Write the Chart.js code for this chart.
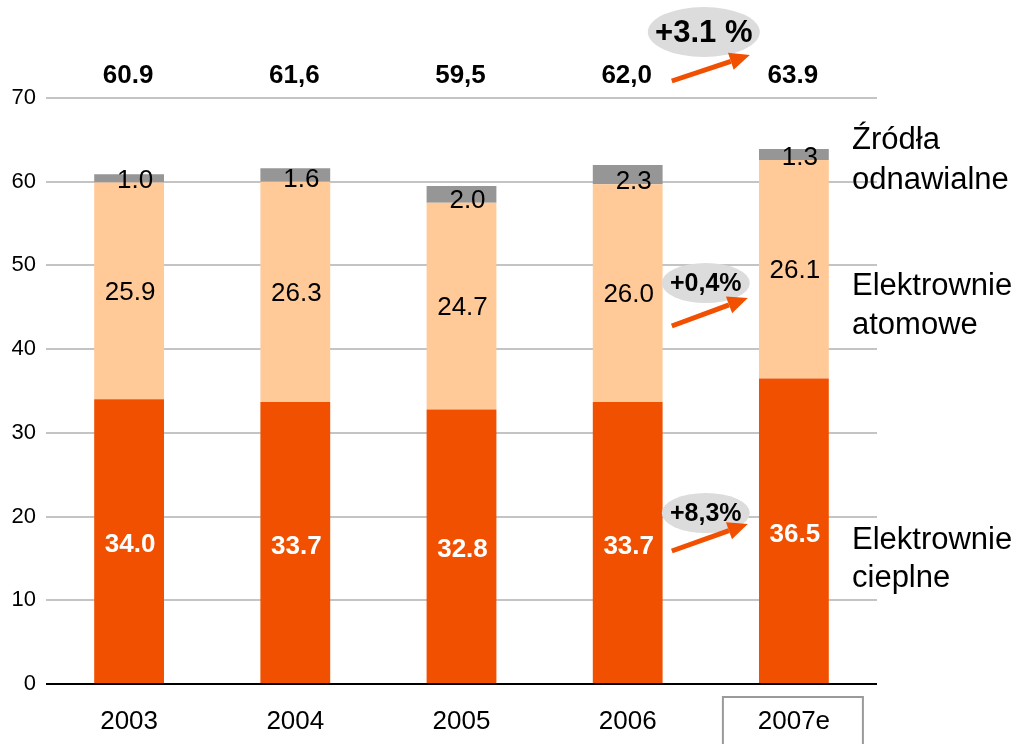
<!DOCTYPE html>
<html>
<head>
<meta charset="utf-8">
<script src="https://cdn.jsdelivr.net/npm/chart.js@4"></script>
<style>
  body { margin: 0; background: #fff; }
  #wrap { width: 1019px; height: 744px; }
</style>
</head>
<body>
<div id="wrap"><canvas id="energyChart" width="1019" height="744"></canvas></div>
<script>
// data
const years = ["2003", "2004", "2005", "2006", "2007e"];
const cieplne = [34.0, 33.7, 32.8, 33.7, 36.5];
const atomowe = [25.9, 26.3, 24.7, 26.0, 26.1];
const odnawialne = [1.0, 1.6, 2.0, 2.3, 1.3];
const totalLabels = ["60.9", "61,6", "59,5", "62,0", "63.9"];
const yTicks = [0, 10, 20, 30, 40, 50, 60, 70];

const FONT = "'Liberation Sans', Arial, sans-serif";

// draws the numbers inside bars, the totals and the side notes
const labelPlugin = {
  id: "labelPlugin",
  afterDatasetsDraw(chart) {
    const ctx = chart.ctx;
    const xScale = chart.scales.x;
    ctx.save();
    ctx.textAlign = "center";
    ctx.textBaseline = "middle";

    // bottom segment - white bold
    chart.getDatasetMeta(0).data.forEach((bar, i) => {
      ctx.font = "bold 26px " + FONT;
      ctx.fillStyle = "#fff";
      ctx.fillText(cieplne[i].toFixed(1), bar.x + 1, (bar.y + bar.base) / 2 + 4);
    });
    // middle segment
    chart.getDatasetMeta(1).data.forEach((bar, i) => {
      ctx.font = "26px " + FONT;
      ctx.fillStyle = "#000";
      ctx.fillText(atomowe[i].toFixed(1), bar.x + 1, (bar.y + bar.base) / 2 + 2);
    });
    // top segment, label sits on the lower edge
    chart.getDatasetMeta(2).data.forEach((bar, i) => {
      ctx.font = "26px " + FONT;
      ctx.fillStyle = "#000";
      ctx.fillText(odnawialne[i].toFixed(1), bar.x + 6, bar.base - 2);
    });
    // totals above the plot
    ctx.font = "bold 26px " + FONT;
    ctx.fillStyle = "#000";
    totalLabels.forEach((t, i) => {
      ctx.fillText(t, xScale.getPixelForValue(i) - 1, 76);
    });

    // box round the estimate year
    const bx = xScale.getPixelForValue(4);
    ctx.strokeStyle = "#9a9a9a";
    ctx.lineWidth = 2;
    ctx.strokeRect(bx - 71, 697, 140, 50);

    // growth notes between 2006 and 2007
    const midX = (xScale.getPixelForValue(3) + xScale.getPixelForValue(4)) / 2;
    drawNote(ctx, midX - 7, 32, 56, 25, "+3.1 %", 31);
    drawArrow(ctx, midX - 39, 81, midX + 39, 55);
    drawNote(ctx, midX - 5, 283, 44, 20, "+0,4%", 25);
    drawArrow(ctx, midX - 39, 326, midX + 37, 298);
    drawNote(ctx, midX - 5, 513, 44, 20, "+8,3%", 25);
    drawArrow(ctx, midX - 39, 551, midX + 37, 524);

    // side labels
    ctx.textAlign = "left";
    ctx.font = "31px " + FONT;
    ctx.fillStyle = "#000";
    const sx = chart.chartArea.right - 25;
    ctx.fillText("Źródła", sx, 140);
    ctx.fillText("odnawialne", sx, 180);
    ctx.fillText("Elektrownie", sx, 286);
    ctx.fillText("atomowe", sx, 325);
    ctx.fillText("Elektrownie", sx, 540);
    ctx.fillText("cieplne", sx, 578);
    ctx.restore();
  }
};

function drawNote(ctx, cx, cy, rx, ry, text, size) {
  ctx.save();
  ctx.fillStyle = "#dcdcdc";
  ctx.beginPath();
  ctx.ellipse(cx, cy, rx, ry, 0, 0, Math.PI * 2);
  ctx.fill();
  ctx.fillStyle = "#000";
  ctx.font = "bold " + size + "px " + FONT;
  ctx.textAlign = "center";
  ctx.textBaseline = "middle";
  ctx.fillText(text, cx, cy + 1);
  ctx.restore();
}

function drawArrow(ctx, x1, y1, x2, y2) {
  const ang = Math.atan2(y2 - y1, x2 - x1);
  const headLen = 20, headW = 9;
  const hx = x2 - headLen * Math.cos(ang);
  const hy = y2 - headLen * Math.sin(ang);
  ctx.save();
  ctx.strokeStyle = "#f05000";
  ctx.fillStyle = "#f05000";
  ctx.lineWidth = 5;
  ctx.beginPath();
  ctx.moveTo(x1, y1);
  ctx.lineTo(hx, hy);
  ctx.stroke();
  ctx.beginPath();
  ctx.moveTo(x2, y2);
  ctx.lineTo(hx + headW * Math.sin(ang), hy - headW * Math.cos(ang));
  ctx.lineTo(hx - headW * Math.sin(ang), hy + headW * Math.cos(ang));
  ctx.closePath();
  ctx.fill();
  ctx.restore();
}

const data = {
  labels: years,
  datasets: [
    { label: "Elektrownie cieplne", data: cieplne, backgroundColor: "#f05000" },
    { label: "Elektrownie atomowe", data: atomowe, backgroundColor: "#ffca98" },
    { label: "Źródła odnawialne", data: odnawialne, backgroundColor: "#969696" }
  ]
};

new Chart(document.getElementById("energyChart"), {
  type: "bar",
  data: data,
  options: {
    responsive: false,
    animation: false,
    layout: { padding: { top: 98, right: 142, left: 0, bottom: 0 } },
    datasets: { bar: { barPercentage: 0.84, categoryPercentage: 0.5 } },
    plugins: {
      legend: { display: false },
      tooltip: { enabled: false }
    },
    scales: {
      x: {
        stacked: true,
        grid: { display: false, drawTicks: false },
        border: { display: false },
        ticks: { color: "#000", font: { family: FONT, size: 26 }, padding: 22 },
        afterFit(scale) { scale.height = 60; }
      },
      y: {
        stacked: true,
        min: 0,
        max: 70,
        afterBuildTicks(scale) { scale.ticks = yTicks.map(v => ({ value: v })); },
        grid: {
          drawTicks: false,
          color: c => (c.tick && c.tick.value === 0 ? "#000" : "#c4c4c4"),
          lineWidth: 2
        },
        border: { display: false },
        ticks: { color: "#000", font: { family: FONT, size: 22 }, padding: 10 },
        afterFit(scale) { scale.width = 46; }
      }
    }
  },
  plugins: [labelPlugin]
});
</script>
</body>
</html>
